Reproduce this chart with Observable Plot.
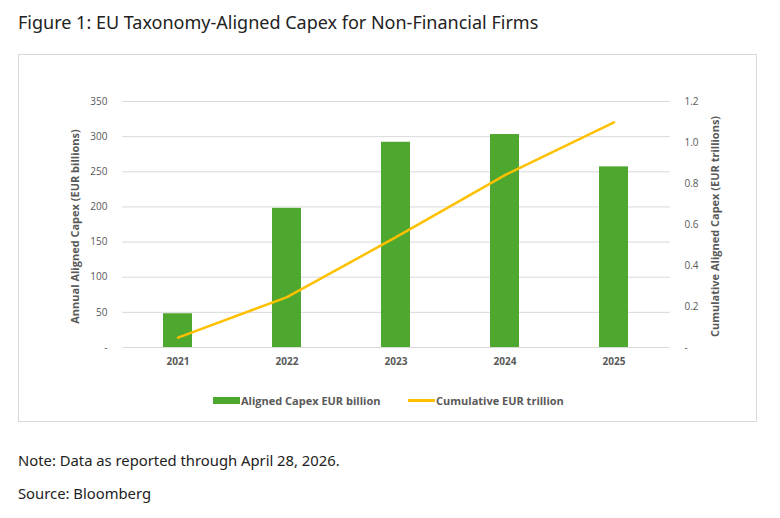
<!DOCTYPE html>
<html>
<head>
<meta charset="utf-8">
<script src="https://cdn.jsdelivr.net/npm/d3@7"></script>
<script src="https://cdn.jsdelivr.net/npm/@observablehq/plot@0.6"></script>
<style>
  html, body { margin: 0; padding: 0; background: #fff; }
  body { width: 780px; height: 518px; position: relative; overflow: hidden; font-family: "Noto Sans", sans-serif; }
  #title { position: absolute; left: 18px; top: 10px; font-size: 18px; color: #222; white-space: nowrap; }
  #box { position: absolute; left: 18px; top: 54px; width: 737px; height: 366px; border: 1px solid #d9d9d9; }
  #chart { position: absolute; left: 0; top: 0; }
  #legend { position: absolute; left: 0; top: 338px; width: 737px; height: 16px; font-family: "Open Sans", sans-serif; font-weight: bold; font-size: 11px; color: #595959; }
  .lg { position: absolute; top: 0; display: flex; align-items: center; white-space: nowrap; }
  .sw { display: inline-block; width: 27px; margin-right: 1px; }
  .note { position: absolute; left: 18px; font-size: 14.8px; color: #222; white-space: nowrap; }
</style>
</head>
<body>
<div id="title">Figure 1: EU Taxonomy-Aligned Capex for Non-Financial Firms</div>
<div id="box">
  <div id="chart"></div>
  <div id="legend">
    <div class="lg" style="left:194px"><span class="sw" style="height:7px;background:#4ea72e"></span>Aligned Capex EUR billion</div>
    <div class="lg" style="left:389px"><span class="sw" style="height:2.5px;background:#ffc000"></span>Cumulative EUR trillion</div>
  </div>
</div>
<div class="note" style="top:450px">Note: Data as reported through April 28, 2026.</div>
<div class="note" style="top:483px">Source: Bloomberg</div>
<script>
const years = ["2021", "2022", "2023", "2024", "2025"];
const alignedCapex = [48, 198, 292, 303, 257];          // EUR billion
const cumulative = [0.048, 0.246, 0.538, 0.841, 1.098]; // EUR trillion
const leftTicks = [0, 50, 100, 150, 200, 250, 300, 350];
const rightTicks = [0, 0.2, 0.4, 0.6, 0.8, 1.0, 1.2];
const leftMax = 350, rightMax = 1.2;
const leftTitle = "Annual Aligned Capex (EUR billions)";
const rightTitle = "Cumulative Aligned Capex (EUR trillions)";

const k = leftMax / rightMax;
const bars = years.map((y, i) => ({year: y, value: alignedCapex[i]}));
const line = years.map((y, i) => ({year: y, value: cumulative[i] * k}));

const gray = "#595959";
const font = "'Open Sans', sans-serif";

const chart = Plot.plot({
  width: 737,
  height: 330,
  marginLeft: 103,
  marginRight: 86,
  marginTop: 46,
  marginBottom: 38,
  style: {fontFamily: font, fontSize: "10px", color: gray, background: "transparent", overflow: "visible"},
  x: {type: "band", domain: years, paddingInner: 0.73, paddingOuter: 0.365},
  y: {domain: [0, leftMax]},
  marks: [
    Plot.gridY(leftTicks, {stroke: "#d9d9d9", strokeOpacity: 1, strokeWidth: 1}),
    Plot.barY(bars, {x: "year", y: "value", fill: "#4ea72e"}),
    Plot.line(line, {x: "year", y: "value", stroke: "#ffc000", strokeWidth: 2.5, strokeLinecap: "round"}),
    Plot.axisY({anchor: "left", ticks: leftTicks, tickSize: 0, tickPadding: 15, label: null,
      tickFormat: d => d === 0 ? "-" : String(d), fill: gray, fontSize: 10}),
    Plot.axisY({anchor: "right", ticks: rightTicks.map(v => v * k), tickSize: 0, tickPadding: 14, label: null,
      tickFormat: d => { const v = d / k; return v < 1e-9 ? "-" : v.toFixed(1); }, fill: gray, fontSize: 10}),
    Plot.axisX({anchor: "bottom", tickSize: 0, tickPadding: 10, label: null, fontWeight: "bold", fill: gray, fontSize: 10}),
    Plot.text([leftTitle], {text: d => d, frameAnchor: "left", textAnchor: "middle", dx: -47, dy: 2, rotate: -90, fontWeight: "bold", fill: gray, fontSize: 11}),
    Plot.text([rightTitle], {text: d => d, frameAnchor: "right", textAnchor: "middle", dx: 45, dy: 2, rotate: -90, fontWeight: "bold", fill: gray, fontSize: 11})
  ]
});
document.getElementById("chart").appendChild(chart);
</script>
</body>
</html>
